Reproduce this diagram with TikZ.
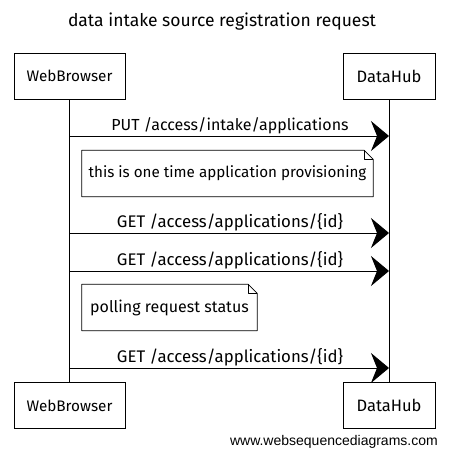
\documentclass[tikz,border=0pt]{standalone}
\usepackage{fontspec}
\setmainfont{Fira Sans}
\newfontfamily\wmfont{Liberation Sans}
\usetikzlibrary{arrows.meta,calc}
\begin{document}
\begin{tikzpicture}[x=1pt,y=-1pt,
  actor/.style={draw, line width=0.8pt, minimum height=46pt, inner sep=0pt},
  life/.style={line width=0.8pt},
  msg/.style={line width=1pt, -{Stealth[length=18pt,width=30pt,inset=6pt]}},
  msglabel/.style={anchor=base},
  notebox/.style={minimum height=46pt, inner sep=0pt},
  noteline/.style={line width=0.8pt, line join=round}
]
\useasboundingbox (0,0) rectangle (448,452);
% title
\node[font=\fontsize{17.5}{20}\selectfont] (title) at (222,22) {data intake source registration request};
% actors
\node[actor, minimum width=111pt, font=\fontsize{15.3}{17}\selectfont] (wbt) at (69.5,76) {WebBrowser};
\node[actor, minimum width=92pt, font=\fontsize{16.5}{18}\selectfont] (dht) at (389,76) {DataHub};
\node[actor, minimum width=111pt, font=\fontsize{15.3}{17}\selectfont] (wbb) at (69.5,405.5) {WebBrowser};
\node[actor, minimum width=92pt, font=\fontsize{16.5}{18}\selectfont] (dhb) at (389,405.5) {DataHub};
% lifelines
\draw[life] (wbt) -- (wbb);
\draw[life] (dht) -- (dhb);
% message 1
\coordinate (m1a) at (69.5,136);
\coordinate (m1b) at (389,136);
\draw[msg] (m1a) -- (m1b);
\node[msglabel, font=\fontsize{16}{18}\selectfont] (l1) at (230,130) {PUT /access/intake/applications};
% note 1
\node[notebox, minimum width=291pt, font=\fontsize{15.2}{17}\selectfont] (n1) at (227.5,173.5) {this is one time application provisioning};
\draw[noteline] (n1.north west) -- ($(n1.north east)+(-9,0)$) -- ($(n1.north east)+(0,9)$) -- (n1.south east) -- (n1.south west) -- cycle;
\draw[noteline] ($(n1.north east)+(-9,0)$) -- ($(n1.north east)+(-9,9)$) -- ($(n1.north east)+(0,9)$);
% message 2
\coordinate (m2a) at (69.5,233);
\coordinate (m2b) at (389,233);
\draw[msg] (m2a) -- (m2b);
\node[msglabel, font=\fontsize{16.8}{19}\selectfont] (l2) at (230,227) {GET /access/applications/\{id\}};
% message 3
\coordinate (m3a) at (69.5,271);
\coordinate (m3b) at (389,271);
\draw[msg] (m3a) -- (m3b);
\node[msglabel, font=\fontsize{16.8}{19}\selectfont] (l3) at (230,265) {GET /access/applications/\{id\}};
% note 2
\node[notebox, minimum width=175pt, font=\fontsize{16}{18}\selectfont] (n2) at (169.5,307.5) {polling request status};
\draw[noteline] (n2.north west) -- ($(n2.north east)+(-9,0)$) -- ($(n2.north east)+(0,9)$) -- (n2.south east) -- (n2.south west) -- cycle;
\draw[noteline] ($(n2.north east)+(-9,0)$) -- ($(n2.north east)+(-9,9)$) -- ($(n2.north east)+(0,9)$);
% message 4
\coordinate (m4a) at (69.5,368);
\coordinate (m4b) at (389,368);
\draw[msg] (m4a) -- (m4b);
\node[msglabel, font=\fontsize{16.8}{19}\selectfont] (l4) at (230,362) {GET /access/applications/\{id\}};
% watermark
\node[font=\wmfont\fontsize{14}{16}\selectfont, anchor=base east, inner sep=0pt] (wm) at (438,445) {www.websequencediagrams.com};
\end{tikzpicture}
\end{document}
